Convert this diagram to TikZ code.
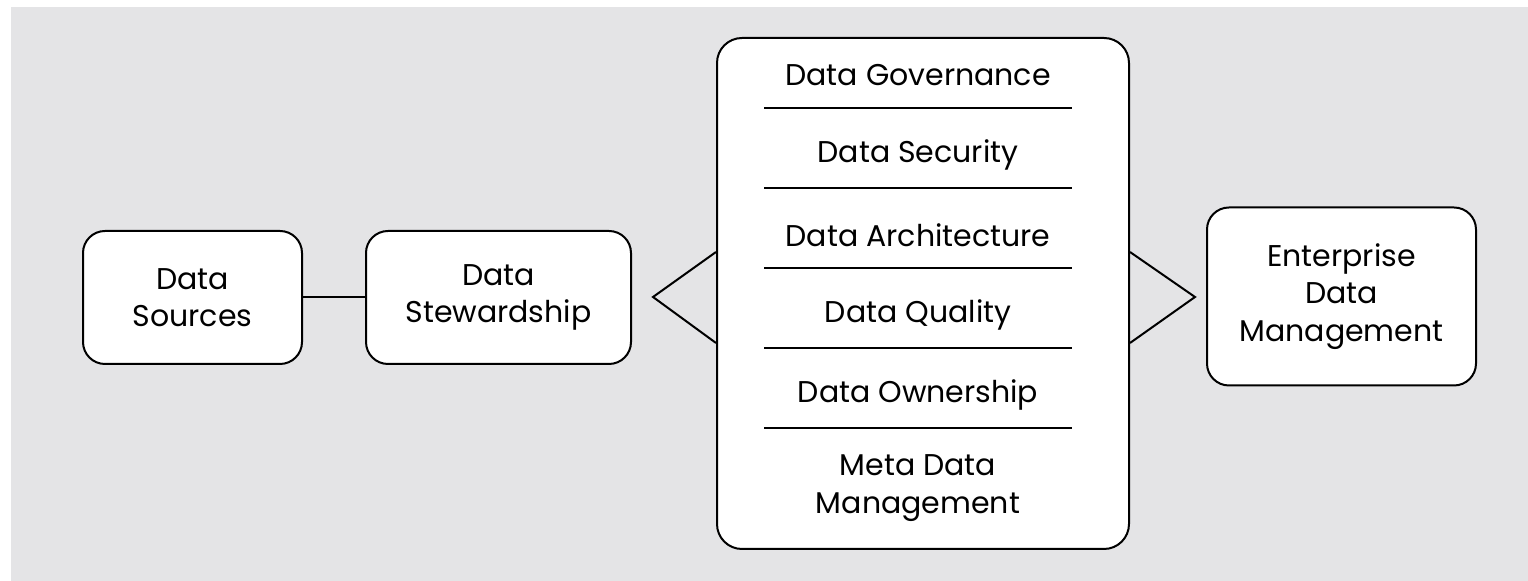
\documentclass[tikz,border=0pt]{standalone}
\usepackage{fontspec}
\setmainfont{Poppins}
\definecolor{bggray}{HTML}{E4E4E6}
\tikzset{
  box/.style={draw=black, line width=1pt, fill=white, rounded corners=11pt, align=center, inner sep=0pt, font=\fontsize{15pt}{18.75pt}\selectfont},
  item/.style={align=center, inner sep=0pt, font=\fontsize{15pt}{18.75pt}\selectfont},
  sep/.style={line width=1.2pt},
  conn/.style={line width=1pt, line join=miter}
}
\begin{document}
\begin{tikzpicture}[x=0.5pt, y=-0.5pt]
\useasboundingbox (0,0) rectangle (1528,581);
\fill[bggray] (11,7) rectangle (1528,581);
% boxes
\node[box, minimum width=109.5pt, minimum height=66.5pt] (src) at (192.5,297.5) {Data\\Sources};
\node[box, minimum width=132.5pt, minimum height=66.5pt] (stew) at (498.5,297.5) {Data\\Stewardship};
\node[box, minimum width=206pt, minimum height=255.5pt, rounded corners=12.5pt] (main) at (923,293.5) {};
\node[box, minimum width=134.5pt, minimum height=89pt] (edm) at (1341.5,296.5) {Enterprise\\Data\\Management};
% connector
\draw[conn] (src.east) -- (stew.west);
% items
\node[item] (i1) at (918,75) {Data Governance};
\node[item] (i2) at (918,155) {Data Security};
\node[item] (i3) at (918,235) {Data Architecture};
\node[item] (i4) at (918,315) {Data Quality};
\node[item] (i5) at (918,395) {Data Ownership};
\node[item] (i6) at (918,488) {Meta Data\\Management};
% separators
\foreach \yy in {108,188,268,348,428} {
  \draw[sep] (764,\yy) -- (1072,\yy);
}
% triangles
\coordinate (la) at (653,297);
\coordinate (ra) at (1195,297);
\draw[conn] (main.west |- 0,252) -- (la) -- (main.west |- 0,343);
\draw[conn] (main.east |- 0,252) -- (ra) -- (main.east |- 0,343);
\end{tikzpicture}
\end{document}
